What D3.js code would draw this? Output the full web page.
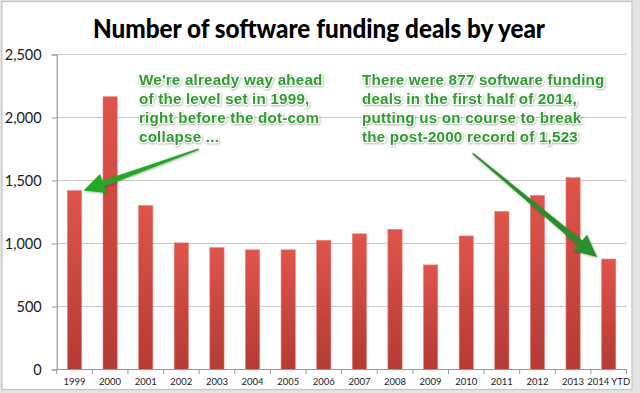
<!DOCTYPE html>
<html><head><meta charset="utf-8">
<script src="https://cdn.jsdelivr.net/npm/d3@7"></script>
<style>
html,body{margin:0;padding:0;background:#fff;}
svg{display:block;}
</style></head>
<body>
<script>
const years = ["1999","2000","2001","2002","2003","2004","2005","2006","2007","2008","2009","2010","2011","2012","2013","2014 YTD"];
const deals = [1420,2165,1302,1005,968,950,950,1025,1077,1113,830,1060,1255,1382,1523,877];
const yTicks = [0,500,1000,1500,2000,2500];
const titleText = "Number of software funding deals by year";
const note1 = ["We're already way ahead","of the level set in 1999,","right before the dot-com","collapse ..."];
const note2 = ["There were 877 software funding","deals in the first half of 2014,","putting us on course to break","the post-2000 record of 1,523"];

const W = 640, H = 393;
const svg = d3.select("body").append("svg").attr("width", W).attr("height", H);
const defs = svg.append("defs");

const bg = defs.append("linearGradient").attr("id","barGrad").attr("x1",0).attr("y1",0).attr("x2",0).attr("y2",1);
bg.append("stop").attr("offset","0%").attr("stop-color","#df544b");
bg.append("stop").attr("offset","100%").attr("stop-color","#b43b34");

const sh = defs.append("filter").attr("id","txtShadow").attr("x","-10%").attr("y","-30%").attr("width","120%").attr("height","160%");
sh.append("feDropShadow").attr("dx",0.6).attr("dy",0.8).attr("stdDeviation",0.8).attr("flood-color","#000").attr("flood-opacity",0.35);

// slide frame
svg.append("rect").attr("x",0).attr("y",0).attr("width",W).attr("height",H).attr("fill","#e4e4e4");
svg.append("rect").attr("x",2).attr("y",1.5).attr("width",630).attr("height",388).attr("fill","#fff").attr("stroke","#c4c4c4").attr("stroke-width",1.2);

const x = d3.scaleBand().domain(years).range([56.7, 626.5]).paddingInner(0.6).paddingOuter(0.3);
const y = d3.scaleLinear().domain([0,2500]).range([369.5, 54.5]);

// gridlines
svg.append("g").selectAll("line").data(yTicks.filter(d=>d>0)).join("line")
  .attr("x1",56.7).attr("x2",626.5).attr("y1",d=>y(d)).attr("y2",d=>y(d))
  .attr("stroke","#c8c8c8").attr("stroke-width",1.2);

// y axis
const yAxis = svg.append("g").attr("transform","translate(56.7,0)")
  .call(d3.axisLeft(y).tickValues(yTicks).tickFormat(d3.format(",")).tickSize(5).tickPadding(10));
yAxis.select(".domain").attr("stroke","#9a9a9a").attr("stroke-width",1.2);
yAxis.selectAll(".tick line").attr("stroke","#9a9a9a");
yAxis.selectAll("text").attr("font-family","Lato, 'Open Sans', sans-serif").attr("font-size",14.5).attr("fill","#1a1a1a").attr("dy","0.36em");

// bars
svg.append("g").selectAll("rect").data(years).join("rect")
  .attr("x",d=>x(d)).attr("width",x.bandwidth())
  .attr("y",(d,i)=>y(deals[i])).attr("height",(d,i)=>y(0)-y(deals[i]))
  .attr("fill","url(#barGrad)").attr("stroke","#e9857e").attr("stroke-width",0.6);

// x axis
const step = x.step();
const x0 = x.range()[0];
svg.append("line").attr("x1",x0).attr("x2",x.range()[1]).attr("y1",y(0)).attr("y2",y(0)).attr("stroke","#9a9a9a").attr("stroke-width",1.2);
svg.append("g").selectAll("line").data(d3.range(years.length+1)).join("line")
  .attr("x1",i=>x0+i*step).attr("x2",i=>x0+i*step).attr("y1",y(0)).attr("y2",y(0)+4.5)
  .attr("stroke","#9a9a9a").attr("stroke-width",1);
svg.append("g").selectAll("text").data(years).join("text")
  .attr("x",d=>x(d)+x.bandwidth()/2).attr("y",385)
  .attr("text-anchor","middle").attr("font-family","Lato, 'Open Sans', sans-serif").attr("font-size",9.5).attr("fill","#222")
  .text(d=>d);

// title
svg.append("text").attr("x",319).attr("y",38).attr("text-anchor","middle")
  .attr("font-family","Lato, 'Open Sans', sans-serif").attr("font-weight",900).attr("font-size",26)
  .attr("textLength",452).attr("lengthAdjust","spacingAndGlyphs").attr("fill","#000")
  .text(titleText);

// annotations
function note(lines, x0, y0) {
  const g = svg.append("g").attr("filter","url(#txtShadow)");
  g.selectAll("text").data(lines).join("text")
    .attr("x",x0).attr("y",(d,i)=>y0+i*19)
    .attr("font-family","'Liberation Sans', Arial, sans-serif").attr("font-weight",700).attr("font-size",15.2)
    .attr("letter-spacing",0.2)
    .attr("fill","#2d9d2d").attr("stroke","#fff").attr("stroke-width",2.2).attr("paint-order","stroke")
    .text(d=>d);
}
note(note1, 139, 84.5);
note(note2, 362, 84.5);

function arrow(tail, tip, color, w0, w1, headLen, headHalf) {
  const dx = tip[0]-tail[0], dy = tip[1]-tail[1];
  const L = Math.hypot(dx,dy);
  const ux = dx/L, uy = dy/L, nx = -uy, ny = ux;
  const bx = tip[0]-ux*headLen, by = tip[1]-uy*headLen;
  const pts = [
    [tail[0]+nx*w0/2, tail[1]+ny*w0/2],
    [bx+nx*w1/2, by+ny*w1/2],
    [bx+nx*headHalf, by+ny*headHalf],
    tip,
    [bx-nx*headHalf, by-ny*headHalf],
    [bx-nx*w1/2, by-ny*w1/2],
    [tail[0]-nx*w0/2, tail[1]-ny*w0/2]
  ];
  svg.append("path").attr("d", d3.line()(pts)+"Z").attr("fill",color)
    .attr("filter","url(#txtShadow)");
}
// arrow 1 points at top-right of 1999 bar
arrow([198.5,149.3], [x("1999")+x.bandwidth()+2, y(deals[0])], "#22a822", 1.6, 6, 21, 10);
// arrow 2 points at top-left of 2014 YTD bar
arrow([472.7,153.3], [x("2014 YTD")-4.5, y(deals[15])-2], "#2a8f2a", 1.6, 6.5, 22, 10.5);
</script>
</body></html>
